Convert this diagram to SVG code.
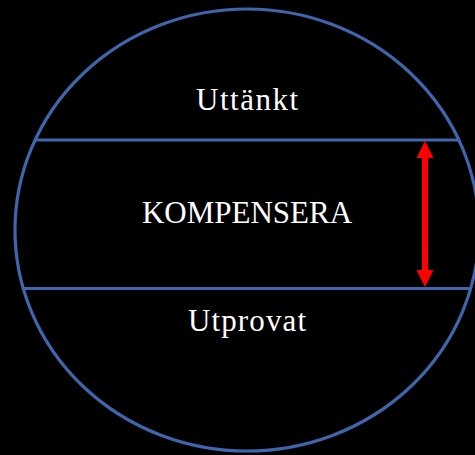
<svg xmlns="http://www.w3.org/2000/svg" width="475" height="455" viewBox="0 0 475 455">
  <style>
    .band { fill: none; stroke: #3F66AC; stroke-width: 3.2; }
    .lbl { fill: #ffffff; font-family: "Liberation Serif", "DejaVu Serif", serif; font-size: 31px; text-anchor: middle; }
    .arrow { stroke: #ff0000; stroke-width: 6; fill: none; }
  </style>
  <defs>
    <marker id="head" markerUnits="userSpaceOnUse" markerWidth="17" markerHeight="17" viewBox="0 0 17 17" refX="8" refY="8.5" orient="auto-start-reverse">
      <path d="M0,0 L17,8.5 L0,17 Z" fill="#ff0000"/>
    </marker>
  </defs>
  <rect x="0" y="0" width="475" height="455" fill="#000000"/>
  <g id="circle">
    <ellipse class="band" cx="247" cy="230" rx="232" ry="221"/>
  </g>
  <g id="dividers">
    <line class="band" x1="35" y1="140" x2="460" y2="140"/>
    <line class="band" x1="24" y1="288.5" x2="472" y2="288.5"/>
  </g>
  <g id="uttankt">
    <text class="lbl" x="247" y="110" textLength="102" lengthAdjust="spacing">Uttänkt</text>
  </g>
  <g id="kompensera">
    <text class="lbl" x="247" y="223">KOMPENSERA</text>
  </g>
  <g id="utprovat">
    <text class="lbl" x="247" y="331" textLength="118" lengthAdjust="spacing">Utprovat</text>
  </g>
  <g id="connectors">
    <line class="arrow" x1="425" y1="150" x2="425" y2="278" marker-start="url(#head)" marker-end="url(#head)"/>
  </g>
</svg>
